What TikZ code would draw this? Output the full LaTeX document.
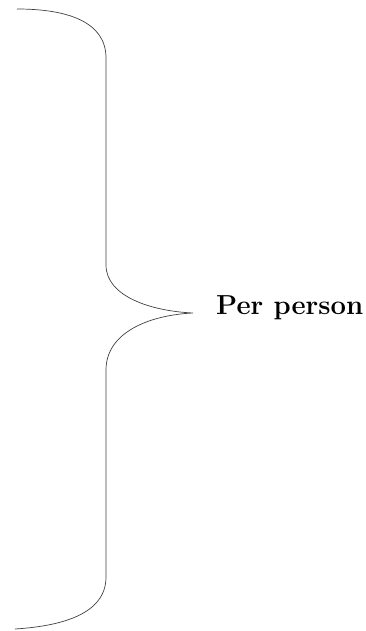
\documentclass[tikz,border=0pt]{standalone}
\begin{document}
\begin{tikzpicture}[x=1pt,y=-1pt,
  bracestyle/.style={draw=black!75,line width=0.7pt},
  labelstyle/.style={inner sep=0pt,anchor=base west,font=\fontsize{27.5}{31}\selectfont\bfseries}]
\useasboundingbox (0,0) rectangle (365,631);
\coordinate (top) at (17,9);
\coordinate (tip) at (193,313);
\coordinate (bot) at (15,629);
\draw[bracestyle] (top) .. controls (68,9) and (106,22) .. (106,58)
  -- (106,265) .. controls (106,296) and (150,311) .. (tip)
  .. controls (150,315) and (106,332) .. (106,370)
  -- (106,577) .. controls (106,614) and (62,626) .. (bot);
\node[labelstyle] (lbl) at (216,314) {Per person};
\end{tikzpicture}
\end{document}
